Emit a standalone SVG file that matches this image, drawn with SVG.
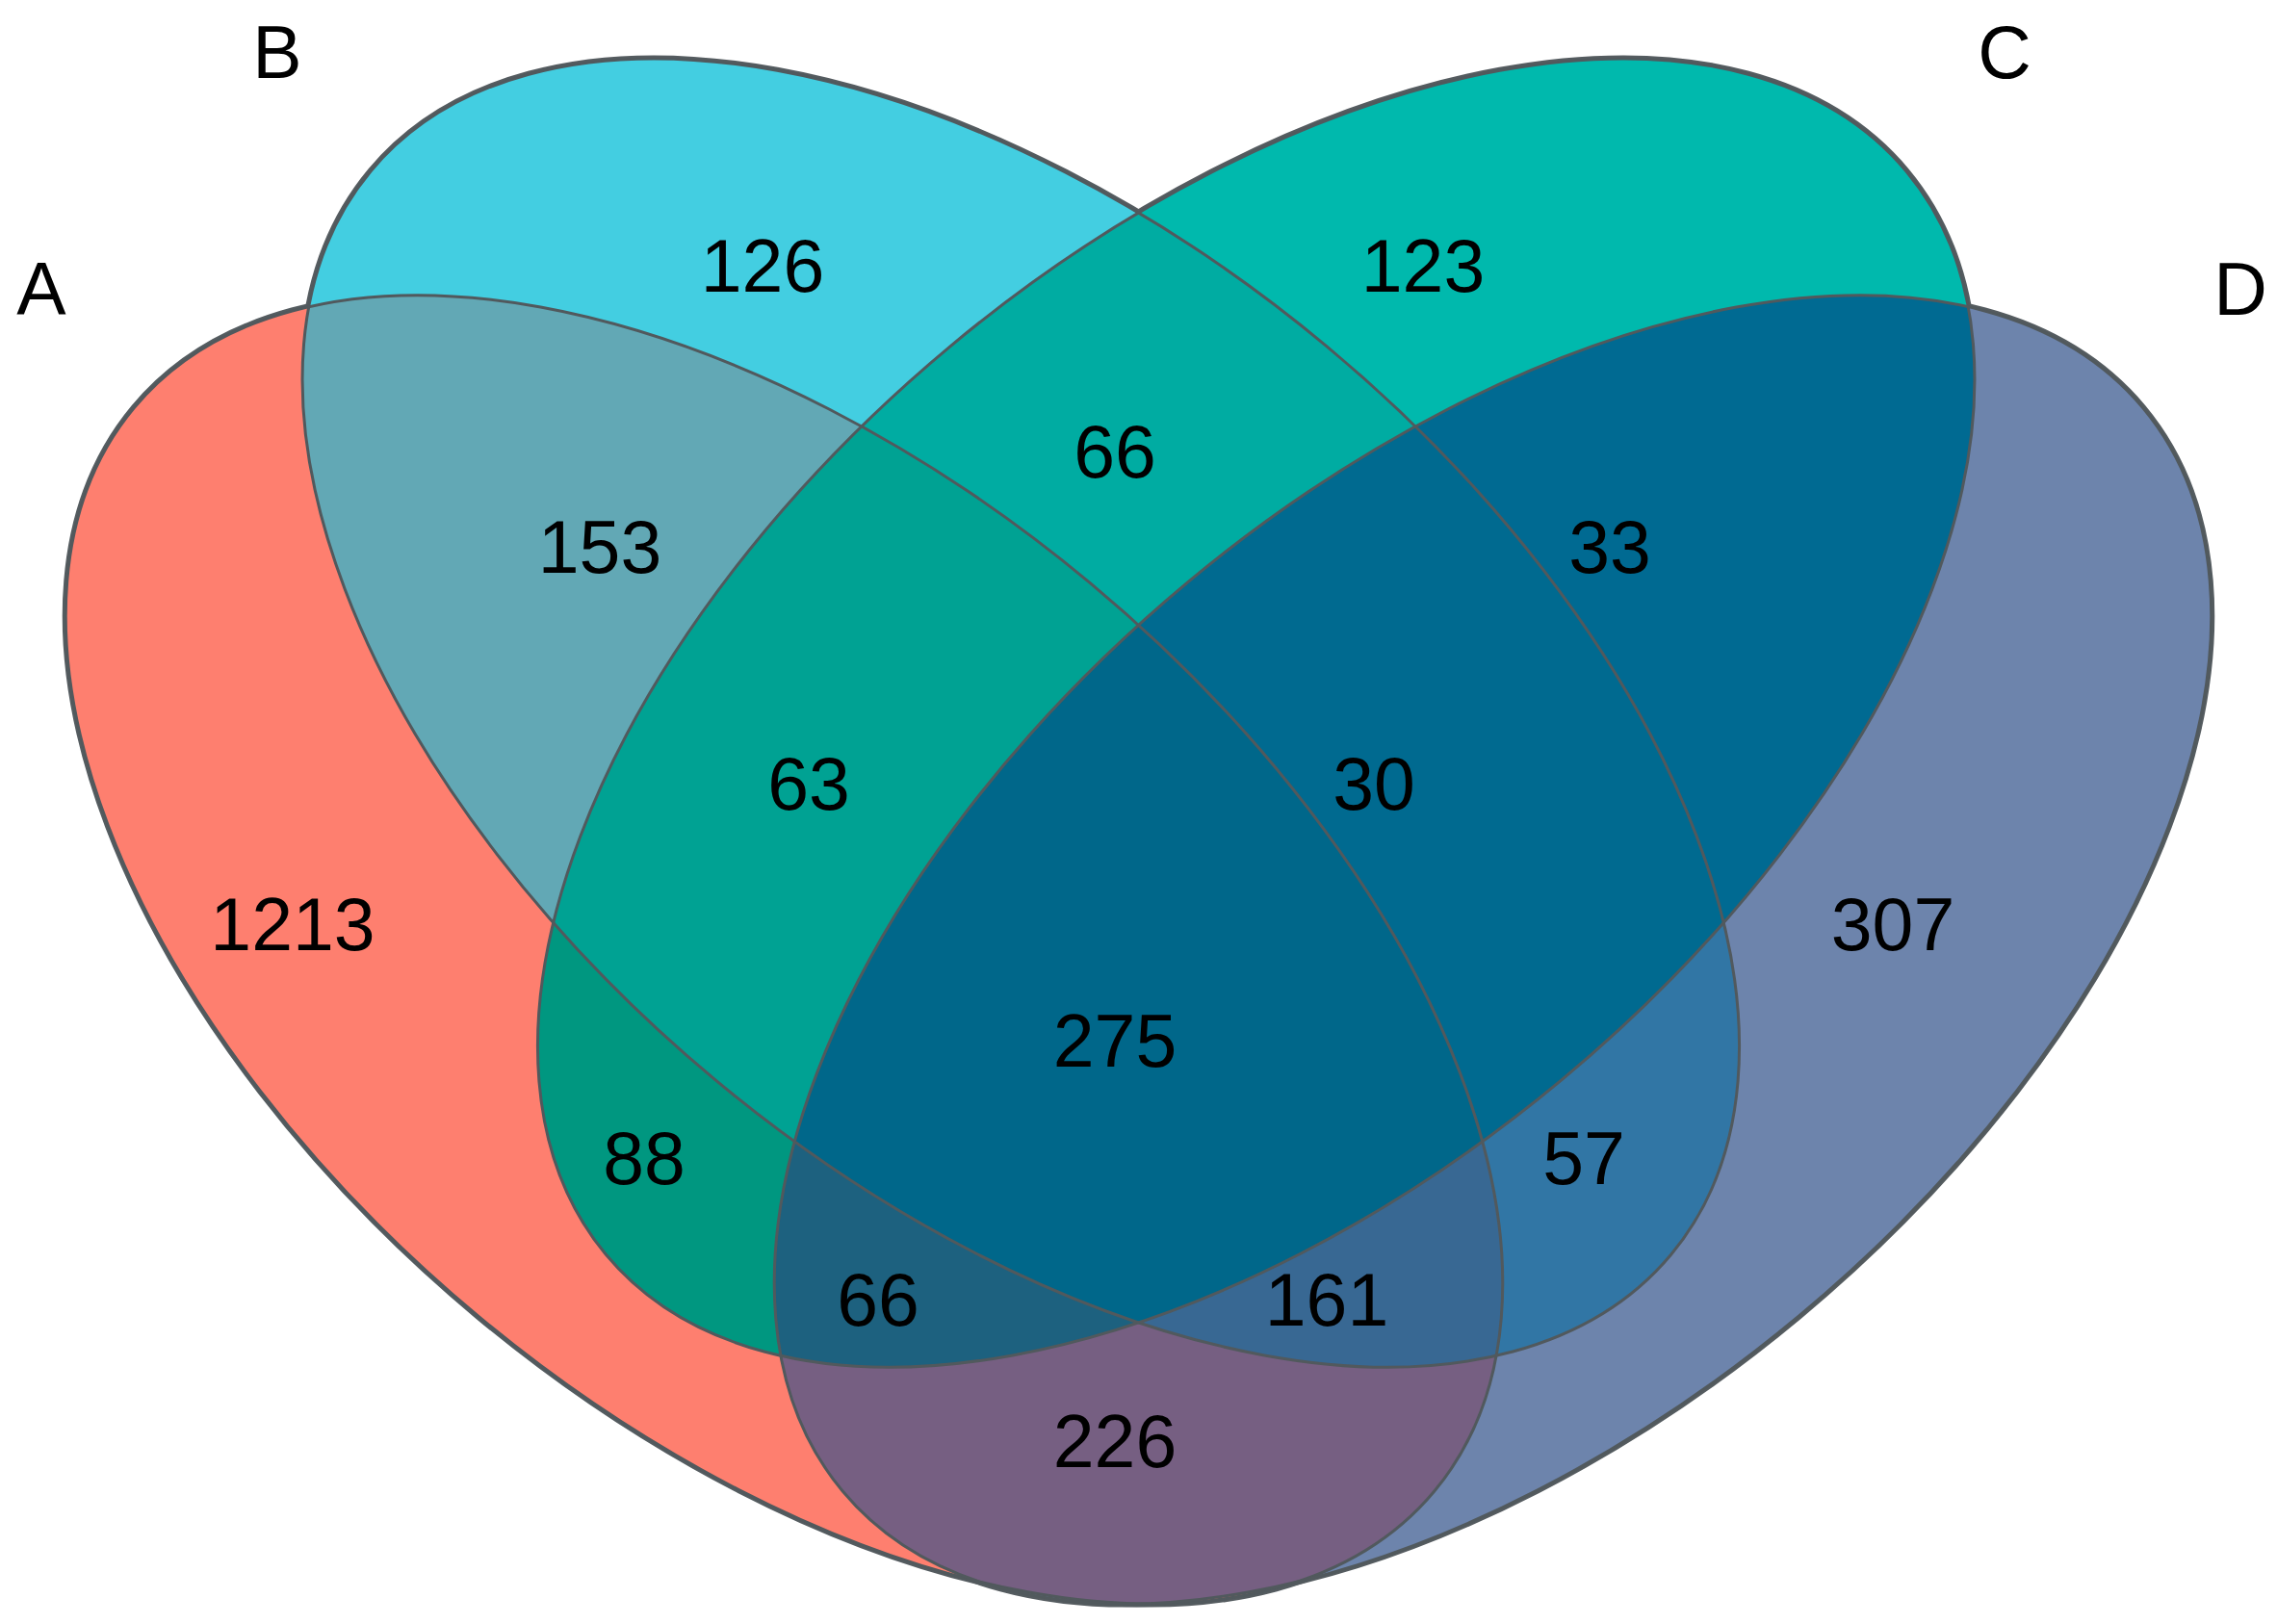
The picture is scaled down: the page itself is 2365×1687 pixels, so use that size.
<svg xmlns="http://www.w3.org/2000/svg" xmlns:xlink="http://www.w3.org/1999/xlink" width="2365" height="1687" viewBox="0 0 2365 1687">
<style>
  text { font-family: "Liberation Sans", Arial, Helvetica, sans-serif; font-size: 77px; fill: #000; text-anchor: middle; }
  .under { fill: none; stroke: #555c60; stroke-width: 7; }
  .line { fill: none; stroke: #51595d; stroke-width: 3; }
</style>
<defs>
  <ellipse id="eA" cx="814.5" cy="986.4" rx="879" ry="496" transform="rotate(39.8 814.5 986.4)"/>
  <ellipse id="eB" cx="1060.3" cy="740.6" rx="879" ry="496" transform="rotate(39.8 1060.3 740.6)"/>
  <ellipse id="eC" cx="1304.7" cy="740.6" rx="879" ry="496" transform="rotate(-39.8 1304.7 740.6)"/>
  <ellipse id="eD" cx="1550.5" cy="986.4" rx="879" ry="496" transform="rotate(-39.8 1550.5 986.4)"/>
  <clipPath id="cA"><use xlink:href="#eA"/></clipPath>
  <clipPath id="cB"><use xlink:href="#eB"/></clipPath>
  <clipPath id="cC"><use xlink:href="#eC"/></clipPath>
  <clipPath id="cD"><use xlink:href="#eD"/></clipPath>
</defs>
<rect width="2365" height="1687" fill="#ffffff"/>
<g id="outer-outline">
  <use xlink:href="#eA" class="under"/>
  <use xlink:href="#eB" class="under"/>
  <use xlink:href="#eC" class="under"/>
  <use xlink:href="#eD" class="under"/>
</g>
<g id="regions">
  <use xlink:href="#eA" fill="#fe7f6f"/>
  <use xlink:href="#eB" fill="#43cee1"/>
  <use xlink:href="#eC" fill="#00b9ad"/>
  <use xlink:href="#eD" fill="#6d84ac"/>
  <g clip-path="url(#cA)"><use xlink:href="#eB" fill="#62a8b5"/></g>
  <g clip-path="url(#cA)"><use xlink:href="#eC" fill="#009780"/></g>
  <g clip-path="url(#cA)"><use xlink:href="#eD" fill="#765f82"/></g>
  <g clip-path="url(#cB)"><use xlink:href="#eC" fill="#00aca2"/></g>
  <g clip-path="url(#cB)"><use xlink:href="#eD" fill="#3176a5"/></g>
  <g clip-path="url(#cC)"><use xlink:href="#eD" fill="#006a92"/></g>
  <g clip-path="url(#cA)"><g clip-path="url(#cB)"><use xlink:href="#eC" fill="#00a293"/></g></g>
  <g clip-path="url(#cA)"><g clip-path="url(#cB)"><use xlink:href="#eD" fill="#386893"/></g></g>
  <g clip-path="url(#cA)"><g clip-path="url(#cC)"><use xlink:href="#eD" fill="#1d617f"/></g></g>
  <g clip-path="url(#cB)"><g clip-path="url(#cC)"><use xlink:href="#eD" fill="#006a90"/></g></g>
  <g clip-path="url(#cA)"><g clip-path="url(#cB)"><g clip-path="url(#cC)"><use xlink:href="#eD" fill="#00678a"/></g></g></g>
</g>
<g id="outlines">
  <use xlink:href="#eA" class="line"/>
  <use xlink:href="#eB" class="line"/>
  <use xlink:href="#eC" class="line"/>
  <use xlink:href="#eD" class="line"/>
</g>
<g id="set-A"><text x="43" y="327">A</text></g>
<g id="set-B"><text x="288" y="81">B</text></g>
<g id="set-C"><text x="2082" y="81">C</text></g>
<g id="set-D"><text x="2327" y="327">D</text></g>
<g id="counts">
  <text x="792" y="303">126</text>
  <text x="1478" y="303">123</text>
  <text x="1158" y="496">66</text>
  <text x="623" y="595">153</text>
  <text x="1672" y="595">33</text>
  <text x="840" y="841">63</text>
  <text x="1427" y="841">30</text>
  <text x="304" y="987">1213</text>
  <text x="1966" y="987">307</text>
  <text x="1158" y="1108">275</text>
  <text x="669" y="1230">88</text>
  <text x="1645" y="1230">57</text>
  <text x="912" y="1377">66</text>
  <text x="1378" y="1377">161</text>
  <text x="1158" y="1524">226</text>
</g>
</svg>
